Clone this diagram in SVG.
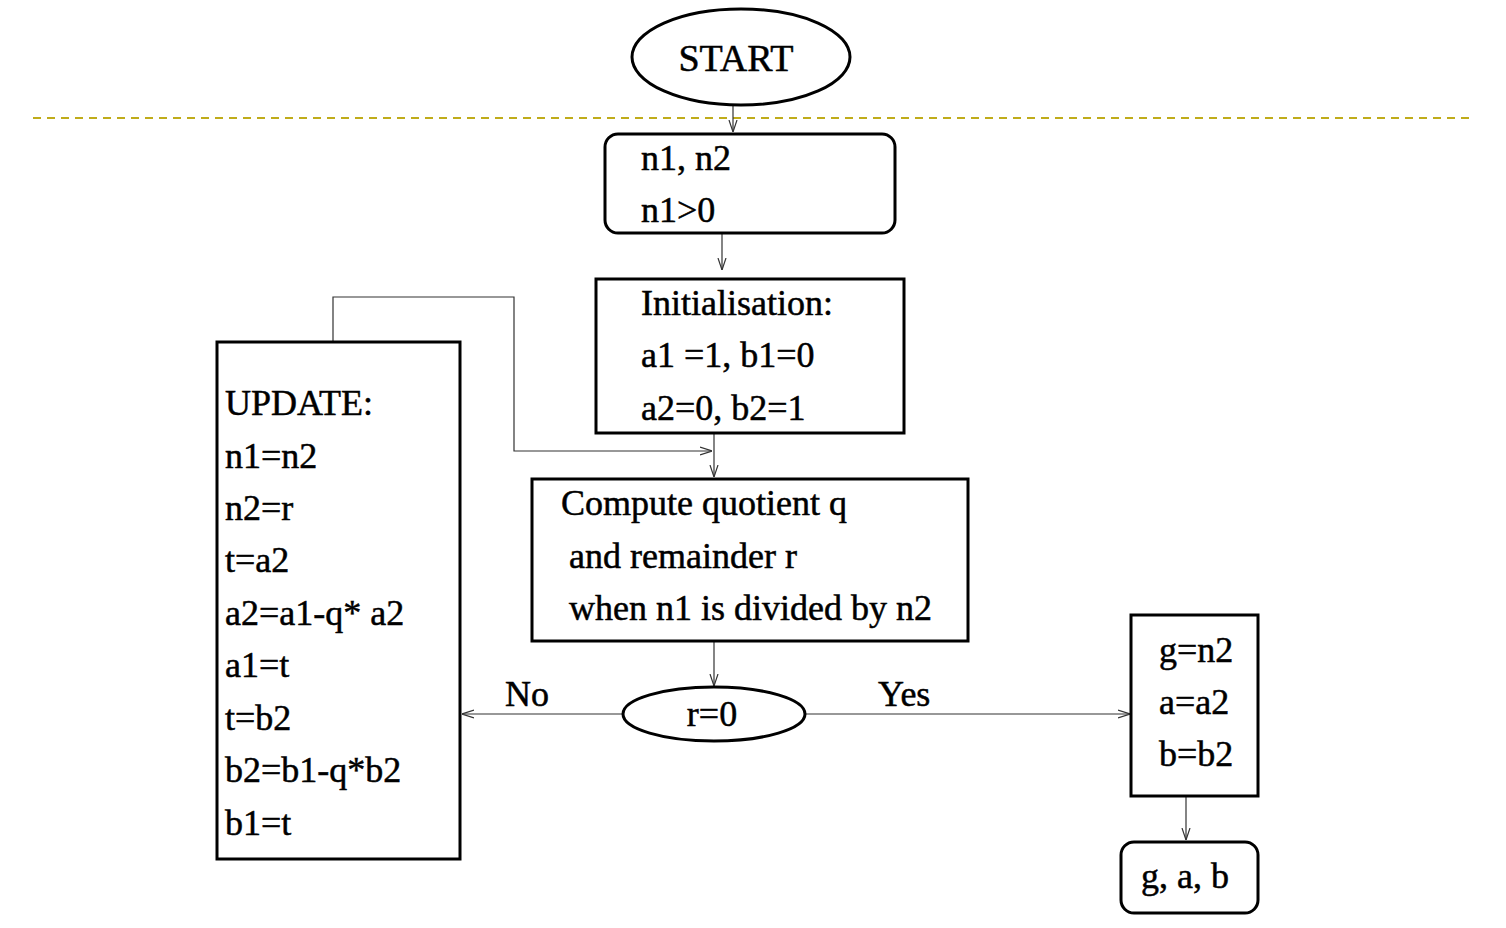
<svg xmlns="http://www.w3.org/2000/svg" width="1506" height="928" viewBox="0 0 1506 928">
<style>
.t{font-family:"Liberation Serif","Times New Roman",serif;font-size:36px;fill:#000;stroke:#000;stroke-width:0.5}
.b{fill:#fff;stroke:#000;stroke-width:3}
.c{fill:none;stroke:#333;stroke-width:1.2}
</style>
<defs>
<marker id="ah" viewBox="0 0 12 10" refX="12" refY="5" markerWidth="12" markerHeight="10" markerUnits="userSpaceOnUse" orient="auto">
<polyline points="0,1 12,5 0,9" fill="none" stroke="#333" stroke-width="1.2"/>
</marker>
</defs>
<line x1="33" y1="118" x2="1473" y2="118" stroke="#c0ac1a" stroke-width="2" stroke-dasharray="8,6"/>
<g id="connectors">
<line class="c" x1="733" y1="97" x2="733" y2="132" marker-end="url(#ah)"/>
<line class="c" x1="722" y1="234" x2="722" y2="270" marker-end="url(#ah)"/>
<line class="c" x1="714" y1="433" x2="714" y2="477" marker-end="url(#ah)"/>
<polyline class="c" points="333,342 333,297 514,297 514,451 712,451" marker-end="url(#ah)"/>
<line class="c" x1="714" y1="641" x2="714" y2="686" marker-end="url(#ah)"/>
<line class="c" x1="623" y1="714" x2="462" y2="714" marker-end="url(#ah)"/>
<line class="c" x1="805" y1="714" x2="1130" y2="714" marker-end="url(#ah)"/>
<line class="c" x1="1186" y1="796" x2="1186" y2="840" marker-end="url(#ah)"/>
<text class="t" x="505" y="706">No</text>
<text class="t" x="878" y="706">Yes</text>
</g>
<g id="start">
<ellipse class="b" cx="741" cy="57" rx="109" ry="48"/>
<text class="t" x="736" y="71" text-anchor="middle" style="font-size:38px">START</text>
</g>
<g id="input">
<rect class="b" x="605" y="134" width="290" height="99" rx="13"/>
<text class="t" x="641" y="170">n1, n2</text>
<text class="t" x="641" y="222">n1&gt;0</text>
</g>
<g id="init">
<rect class="b" x="596" y="279" width="308" height="154"/>
<text class="t" x="641" y="315">Initialisation:</text>
<text class="t" x="641" y="367">a1 =1, b1=0</text>
<text class="t" x="641" y="420">a2=0, b2=1</text>
</g>
<g id="compute">
<rect class="b" x="532" y="479" width="436" height="162"/>
<text class="t" x="561" y="515">Compute quotient q</text>
<text class="t" x="569" y="568">and remainder r</text>
<text class="t" x="569" y="620">when n1 is divided by n2</text>
</g>
<g id="decision">
<ellipse class="b" cx="714" cy="714" rx="91" ry="27"/>
<text class="t" x="712" y="726" text-anchor="middle">r=0</text>
</g>
<g id="update">
<rect class="b" x="217" y="342" width="243" height="517"/>
<text class="t" x="225" y="415">UPDATE:</text>
<text class="t" x="225" y="468">n1=n2</text>
<text class="t" x="225" y="520">n2=r</text>
<text class="t" x="225" y="572">t=a2</text>
<text class="t" x="225" y="625">a2=a1-q* a2</text>
<text class="t" x="225" y="677">a1=t</text>
<text class="t" x="225" y="730">t=b2</text>
<text class="t" x="225" y="782">b2=b1-q*b2</text>
<text class="t" x="225" y="835">b1=t</text>
</g>
<g id="result">
<rect class="b" x="1131" y="615" width="127" height="181"/>
<text class="t" x="1159" y="662">g=n2</text>
<text class="t" x="1159" y="714">a=a2</text>
<text class="t" x="1159" y="766">b=b2</text>
</g>
<g id="output">
<rect class="b" x="1121" y="842" width="137" height="71" rx="13"/>
<text class="t" x="1141" y="888">g, a, b</text>
</g>
</svg>
